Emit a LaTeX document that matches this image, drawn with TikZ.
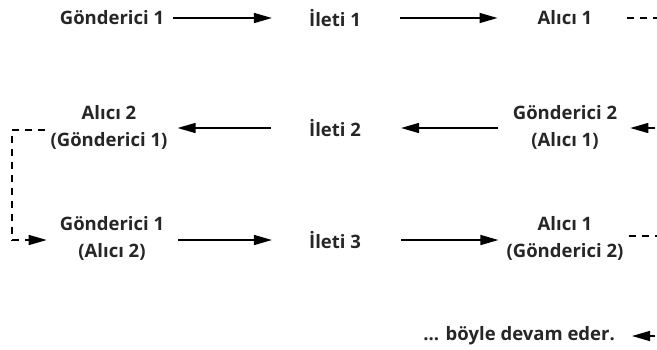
\documentclass[tikz,border=0pt]{standalone}
\usepackage{fontspec}
\setmainfont{Open Sans}
\usetikzlibrary{arrows.meta}
\begin{document}
\begin{tikzpicture}[x=1pt,y=-1pt,
  lbl/.style={font=\bfseries\fontsize{18.5}{27}\selectfont, align=center, inner sep=5pt, text=black!85},
  arr/.style={line width=1.5pt, -{Triangle[length=18pt,width=10pt]}},
  dsh/.style={line width=1.5pt, dash pattern=on 7pt off 6pt},
  dsharr/.style={dsh, -{Triangle[length=18pt,width=10pt]}}]
\useasboundingbox (0,0) rectangle (657,349);
\clip (0,0) rectangle (657,349);
% row 1
\node[lbl] (g1) at (112,18) {Gönderici 1};
\node[lbl] (i1) at (335,18) {İleti 1};
\node[lbl] (a1) at (565,18) {Alıcı 1};
% row 2
\node[lbl] (a2) at (109,127) {Alıcı 2\\(Gönderici 1)};
\node[lbl] (i2) at (335,128) {İleti 2};
\node[lbl] (g2) at (565,127) {Gönderici 2\\(Alıcı 1)};
% row 3
\node[lbl] (g3) at (112,238) {Gönderici 1\\(Alıcı 2)};
\node[lbl] (i3) at (335,240) {İleti 3};
\node[lbl] (a3) at (565,238) {Alıcı 1\\(Gönderici 2)};
% row 4
\node[lbl, anchor=east] (bd) at (620,336) {... böyle devam eder.};
% coordinates for the loops
\coordinate (r1) at (694,18);
\coordinate (r2) at (694,128);
\coordinate (r3) at (694,236);
\coordinate (r4) at (694,336);
\coordinate (l1) at (12,130);
\coordinate (l2) at (12,240);
% arrows
\draw[arr, shorten <=4pt, shorten >=32pt] (g1.east) -- (i1.west);
\draw[arr, shorten <=34pt, shorten >=35pt] (i1.east) -- (a1.west);
\draw[arr, shorten <=33pt, shorten >=5pt] (i2.west) -- (a2.east |- i2.west);
\draw[arr, shorten <=10pt, shorten >=35pt] (g2.west |- i2.west) -- (i2.east);
\draw[arr, shorten <=9pt, shorten >=32pt] (g3.east |- i3.west) -- (i3.west);
\draw[arr, shorten <=35pt, shorten >=3pt] (i3.east) -- (a3.west |- i3.east);
% dashed loops
\draw[dsh, shorten <=30pt] (a1.east) -- (r1);
\draw[dsh] (r1) -- (r2);
\draw[dsharr, shorten >=8pt] (r2) -- (g2.east |- r2);
\draw[dsh] (a3.east |- r3) -- (r3) -- (r4);
\draw[dsharr, shorten >=12pt] (r4) -- (bd.east);
\draw[dsh] (a2.west |- l1) -- (l1) -- (l2);
\draw[dsharr, shorten >=8pt] (l2) -- (g3.west |- l2);
\end{tikzpicture}
\end{document}
